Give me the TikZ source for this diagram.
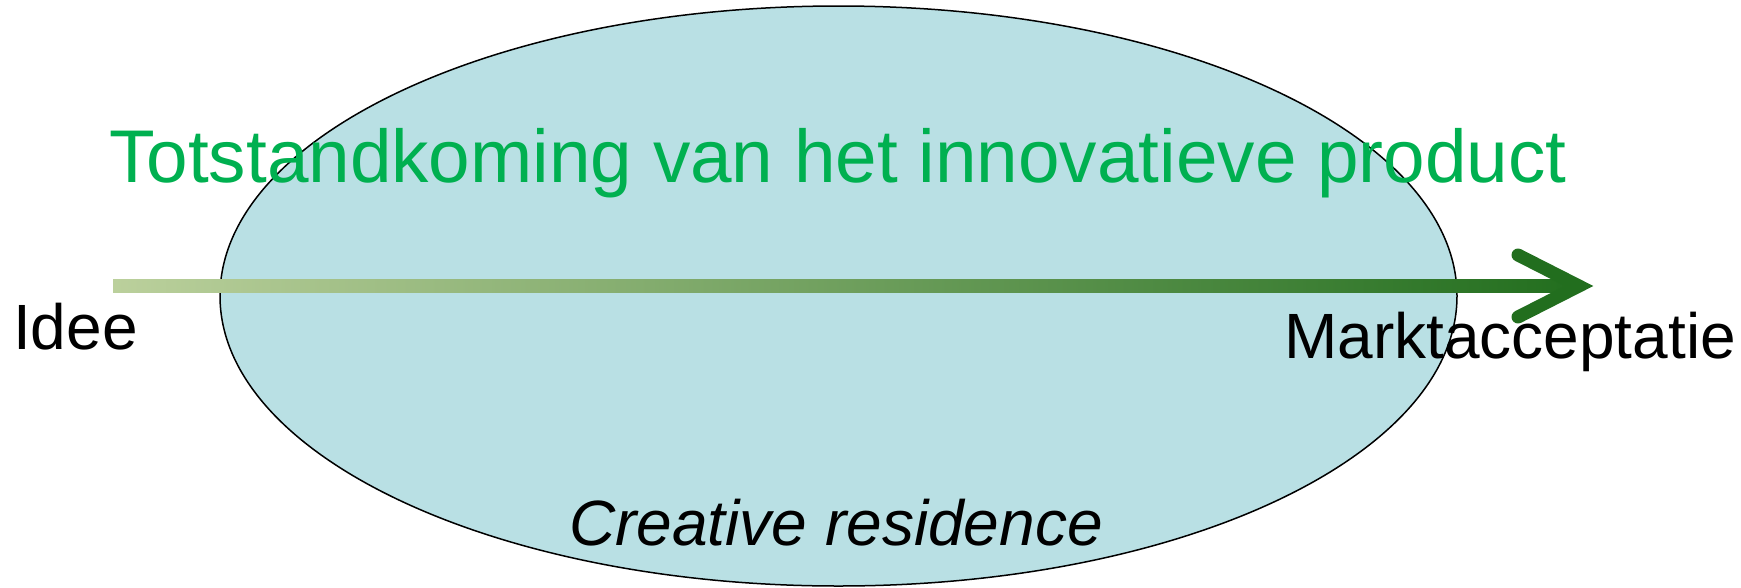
\documentclass[tikz,border=0pt]{standalone}
\usepackage{fontspec}
\setmainfont{Liberation Sans}
\usetikzlibrary{shapes.geometric}
\definecolor{residencefill}{HTML}{B9E0E4}
\definecolor{titlegreen}{HTML}{00B050}
\definecolor{ideagreen}{HTML}{BBD09C}
\definecolor{marketgreen}{HTML}{226E1E}
\tikzset{
  label/.style = {inner sep=0pt, font=\fontsize{64}{70}\selectfont},
}
\begin{document}
\begin{tikzpicture}[x=1pt, y=-1pt]
\useasboundingbox (0,0) rectangle (1741,587);
\node [ellipse, draw, line width=1.5, fill=residencefill, inner sep=0pt,
  minimum width=1237, minimum height=580] (residence) at (838.5,296) {};
\node [label, anchor=base west, text=titlegreen, font=\fontsize{74.7}{80}\selectfont] (title) at (109,182) {Totstandkoming van het innovatieve product};
\node [label, anchor=base west] (idee) at (13,349) {Idee};
\node [label, anchor=base west] (markt) at (1284,358) {Marktacceptatie};
\node [label, anchor=base west, font=\fontsize{64}{70}\selectfont\itshape] (creative) at (569,545) {Creative residence};
\coordinate (start) at (113,286);
\coordinate (tip) at (1579,286);
\shade [left color=ideagreen, right color=marketgreen] ([yshift=6.5pt] start) rectangle ([yshift=-6.5pt] tip);
\draw [line width=13, line cap=round, color=marketgreen] (1518,255) -- (tip) -- (1518,317);
\end{tikzpicture}
\end{document}
